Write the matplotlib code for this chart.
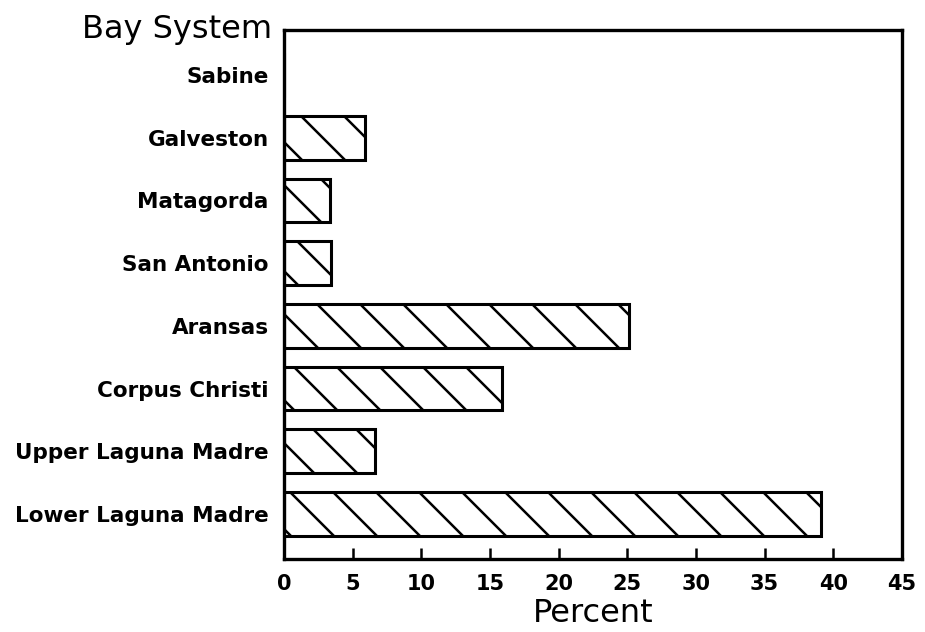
import numpy as np
import matplotlib
matplotlib.use("Agg")
import matplotlib.pyplot as plt
from matplotlib.lines import Line2D

categories = ["Lower Laguna Madre", "Upper Laguna Madre", "Corpus Christi", "Aransas",
              "San Antonio", "Matagorda", "Galveston", "Sabine"]
values = [39.1, 6.6, 15.9, 25.1, 3.45, 3.35, 5.9, 0.0]
xticks = [0, 5, 10, 15, 20, 25, 30, 35, 40, 45]

fig = plt.figure(figsize=(9.25, 6.32), dpi=100)
ax = fig.add_axes([0.307, 0.1155, 0.668, 0.837])

ypos = np.arange(len(categories))
bars = ax.barh(ypos, values, height=0.70, color="white", edgecolor="black", linewidth=2.2, zorder=2)

ax.set_xlim(0, 45)
ax.set_ylim(-0.72, len(categories) - 1 + 0.72)
ax.set_xticks(xticks)
ax.set_xticklabels([str(t) for t in xticks], fontsize=15, fontweight="bold")
ax.set_yticks(ypos)
ax.set_yticklabels(categories, fontsize=15.5, fontweight="bold")
ax.tick_params(axis="y", length=0, pad=11)
ax.tick_params(axis="x", direction="in", length=8, width=1.8, pad=11)
for s in ax.spines.values():
    s.set_linewidth(2.4)

fig.text(593 / 925, 1 - 622 / 632, "Percent", ha="center", va="baseline", fontsize=23)
fig.text(272 / 925, 1 - 38 / 632, "Bay System", ha="right", va="baseline", fontsize=23)

# custom diagonal hatching ("\" direction) clipped to each bar
spacing = 43.0
inv = ax.transData.inverted()
for b in bars:
    x0, y0 = b.get_x(), b.get_y()
    w, h = b.get_width(), b.get_height()
    if w <= 0:
        continue
    px0, py0 = ax.transData.transform((x0, y0))
    px1, py1 = ax.transData.transform((x0 + w, y0 + h))
    cmin, cmax = px0 + py0, px1 + py1
    k0 = np.floor(cmin / spacing)
    k1 = np.ceil(cmax / spacing)
    for k in np.arange(k0, k1 + 1):
        c = k * spacing
        a = inv.transform((c - py1, py1))
        bb = inv.transform((c - py0, py0))
        ln = Line2D([a[0], bb[0]], [a[1], bb[1]], color="black", linewidth=1.8, zorder=3)
        ax.add_line(ln)
        ln.set_clip_path(b)

fig.savefig("out.png", dpi=100)
